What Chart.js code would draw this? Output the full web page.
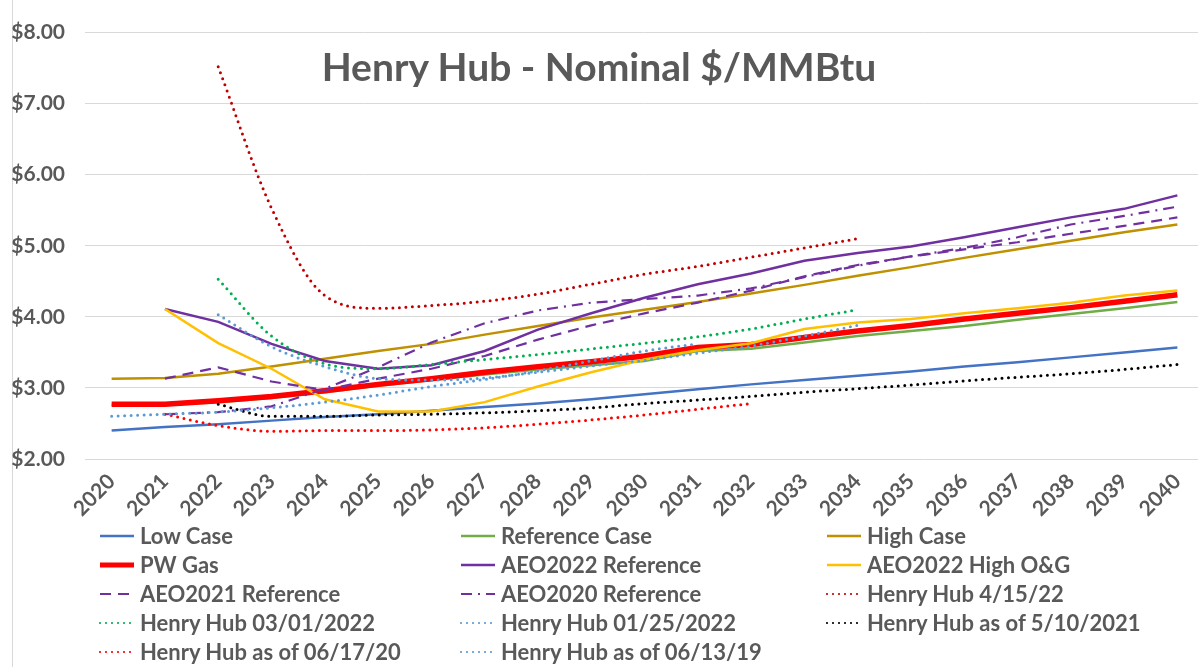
<!DOCTYPE html>
<html>
<head>
<meta charset="utf-8">
<script src="https://cdn.jsdelivr.net/npm/chart.js@4.4.1/dist/chart.umd.min.js"></script>
<style>
  html, body { margin: 0; padding: 0; background: #fff; overflow: hidden; }
  body { width: 1198px; height: 667px; position: relative; font-family: Lato, 'Open Sans', sans-serif; }
  #wrap { position: absolute; left: 0; top: 0; width: 1204px; height: 530px; }
  #edge { position: absolute; left: 12px; top: 0; height: 667px; border-left: 1px solid #d9d9d9; }
  #title { position: absolute; left: 0; top: 45px; width: 1198px; text-align: center;
           font: bold 39px Lato, sans-serif; line-height: 42px; color: #595959; }
  #legend { position: absolute; left: 98px; top: 521px; display: grid;
            grid-template-columns: 361px 366px 330px; grid-auto-rows: 29px; }
  .item { display: flex; align-items: center; font: bold 22px Lato, sans-serif; color: #595959; white-space: nowrap; }
  .item svg { margin-right: 5px; flex: none; }
</style>
</head>
<body>
<div id="edge"></div>
<div id="wrap"><canvas id="chart" width="1204" height="530"></canvas></div>
<div id="title">Henry Hub - Nominal $/MMBtu</div>
<div id="legend"></div>

<script>
// 年（カテゴリ）
const years = ['2020','2021','2022','2023','2024','2025','2026','2027','2028','2029','2030',
               '2031','2032','2033','2034','2035','2036','2037','2038','2039','2040'];

// 各シリーズ（$/MMBtu、null はデータなし）
const lowCase       = [2.40,2.45,2.49,2.54,2.59,2.63,2.68,2.73,2.78,2.84,2.91,2.98,3.05,3.11,3.17,3.23,3.30,3.36,3.43,3.50,3.57];
const referenceCase = [2.76,2.76,2.80,2.86,2.94,3.03,3.11,3.19,3.26,3.32,3.38,3.52,3.55,3.64,3.73,3.80,3.87,3.96,4.04,4.12,4.21];
const highCase      = [3.13,3.14,3.20,3.30,3.41,3.52,3.62,3.75,3.87,3.99,4.10,4.21,4.33,4.45,4.58,4.70,4.83,4.95,5.07,5.19,5.30];
const pwGas         = [2.77,2.77,2.82,2.88,2.96,3.05,3.13,3.22,3.30,3.37,3.45,3.57,3.61,3.71,3.80,3.88,3.97,4.05,4.13,4.22,4.31];
const aeo2022Ref    = [null,4.11,3.93,3.62,3.38,3.27,3.32,3.52,3.82,4.05,4.27,4.46,4.61,4.79,4.90,4.99,5.12,5.26,5.40,5.52,5.71];
const aeo2022High   = [null,4.11,3.63,3.27,2.84,2.67,2.67,2.80,3.02,3.22,3.40,3.53,3.63,3.83,3.92,3.97,4.05,4.12,4.20,4.30,4.37];
const aeo2021Ref    = [null,3.13,3.29,3.09,2.97,3.13,3.27,3.45,3.68,3.88,4.05,4.20,4.37,4.57,4.73,4.85,4.95,5.05,5.17,5.28,5.40];
const aeo2020Ref    = [null,2.63,2.66,2.74,2.99,3.29,3.64,3.91,4.09,4.20,4.25,4.30,4.40,4.56,4.72,4.85,4.97,5.12,5.30,5.42,5.55];
const hh041522      = [null,null,7.52,5.53,4.30,4.12,4.16,4.22,4.32,4.46,4.60,4.71,4.84,4.97,5.10];
const hh030122      = [null,null,4.53,3.73,3.34,3.27,3.33,3.40,3.47,3.55,3.63,3.72,3.83,3.97,4.10];
const hh012522      = [null,null,4.03,3.58,3.30,3.13,3.11,3.14,3.22,3.31,3.39,3.49,3.59,3.73,3.88];
const hh051021      = [null,null,2.77,2.60,2.60,2.62,2.63,2.65,2.68,2.72,2.78,2.83,2.88,2.94,2.99,3.04,3.10,3.15,3.20,3.26,3.33];
const hh061720      = [null,2.63,2.47,2.39,2.40,2.40,2.41,2.44,2.49,2.55,2.62,2.70,2.78];
const hh061319      = [2.60,2.63,2.66,2.72,2.80,2.90,3.02,3.12,3.24,3.38,3.52,3.62];

// Y軸目盛
const yTicks = [2, 3, 4, 5, 6, 7, 8];

const TEXT = '#595959';
const DOT = [0, 6.5];

function solid(label, data, color, width) {
  return { label, data, borderColor: color, borderWidth: width || 2.5, tension: 0 };
}
function dashed(label, data, color, dash) {
  return { label, data, borderColor: color, borderWidth: 2.2, borderDash: dash, tension: 0 };
}
function dotted(label, data, color) {
  return { label, data, borderColor: color, borderWidth: 3, borderDash: DOT,
           borderCapStyle: 'round', cubicInterpolationMode: 'monotone' };
}

const datasets = [
  solid('Low Case', lowCase, '#4472C4'),
  solid('Reference Case', referenceCase, '#70AD47'),
  solid('High Case', highCase, '#BF9000'),
  solid('PW Gas', pwGas, '#FF0000', 5.5),
  solid('AEO2022 Reference', aeo2022Ref, '#7030A0'),
  solid('AEO2022 High O&G', aeo2022High, '#FFC000'),
  dashed('AEO2021 Reference', aeo2021Ref, '#7030A0', [11, 7]),
  dashed('AEO2020 Reference', aeo2020Ref, '#7030A0', [11, 6, 2, 6]),
  dotted('Henry Hub 4/15/22', hh041522, '#C00000'),
  dotted('Henry Hub 03/01/2022', hh030122, '#00B050'),
  dotted('Henry Hub 01/25/2022', hh012522, '#5B9BD5'),
  dotted('Henry Hub as of 5/10/2021', hh051021, '#000000'),
  dotted('Henry Hub as of 06/17/20', hh061720, '#FF0000'),
  dotted('Henry Hub as of 06/13/19', hh061319, '#5B9BD5'),
];

// Excel と同じく後のシリーズを上に描く
datasets.forEach((ds, i) => {
  ds.order = datasets.length - i;
  ds.pointRadius = 0;
  ds.fill = false;
  ds.spanGaps = false;
});

new Chart(document.getElementById('chart').getContext('2d'), {
  type: 'line',
  data: { labels: years, datasets },
  options: {
    responsive: false,
    animation: false,
    layout: { padding: { top: 22, left: 0, right: 0, bottom: 0 } },
    plugins: { legend: { display: false }, tooltip: { enabled: false } },
    scales: {
      x: {
        offset: true,
        grid: { display: false },
        border: { display: false },
        ticks: {
          color: TEXT, autoSkip: false, minRotation: 45, maxRotation: 45, padding: 2,
          font: { family: 'Lato', size: 21, weight: 'bold' },
        },
        afterFit(scale) { scale.height = 530 - 459; },
      },
      y: {
        min: yTicks[0],
        max: yTicks[yTicks.length - 1],
        afterBuildTicks(scale) { scale.ticks = yTicks.map(v => ({ value: v })); },
        grid: { color: '#d9d9d9', lineWidth: 1, drawTicks: false },
        border: { display: false },
        ticks: {
          color: TEXT, padding: 20,
          font: { family: 'Lato', size: 21, weight: 'bold' },
          callback: v => '$' + Number(v).toFixed(2),
        },
        afterFit(scale) { scale.width = 85; },
      },
    },
  },
});

// 凡例（3列）
function sampleSvg(ds) {
  const dash = ds.borderDash ? ds.borderDash.join(',') : 'none';
  const w = ds.borderDash === DOT ? 2.2 : Math.min(ds.borderWidth, 5);
  const dashAttr = ds.borderDash === DOT ? '0,6' : dash;
  return `<svg width="37" height="12"><line x1="2" y1="6" x2="36" y2="6" stroke="${ds.borderColor}"
    stroke-width="${w}" stroke-dasharray="${dashAttr}" stroke-linecap="${ds.borderCapStyle || 'butt'}"/></svg>`;
}
const legendEl = document.getElementById('legend');
datasets.forEach(ds => {
  const item = document.createElement('div');
  item.className = 'item';
  item.innerHTML = sampleSvg(ds) + '<span></span>';
  item.querySelector('span').textContent = ds.label;
  legendEl.appendChild(item);
});
</script>
</body>
</html>
